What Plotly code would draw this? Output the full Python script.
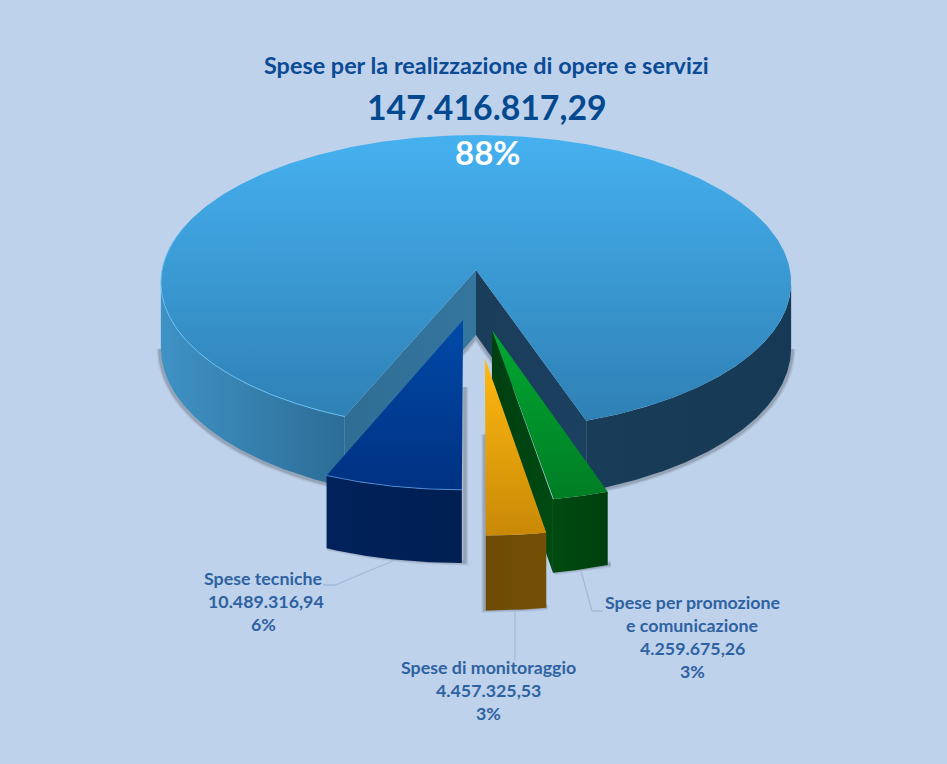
import numpy as np
import plotly.graph_objects as go

# ---------- data ----------
categories = ["Spese per la realizzazione di opere e servizi", "Spese tecniche",
              "Spese di monitoraggio", "Spese per promozione e comunicazione"]
values = [147416817.29, 10489316.94, 4457325.53, 4259675.26]
value_labels = ["147.416.817,29", "10.489.316,94", "4.457.325,53", "4.259.675,26"]
percent_labels = [f"{round(v / sum(values) * 100)}%" for v in values]

# ---------- view model (a perspective view of the pie's ground plane) ----------
W, H = 947, 764
CX, CY, BX, AY, K, DEPTH = 476, 270, 314, 146.4, 0.0847, 65
BG = "#bed2ec"
EDGE = float(np.degrees(np.arccos(K)))  # angle of the silhouette's widest point

def proj(u, v, z=0.0):
    w = 1 - K * np.asarray(v, dtype=float)
    return CX + BX * np.asarray(u) / w, CY + AY * np.asarray(v) / w + z * DEPTH / w

span = [v / sum(values) * 360 for v in values]
blue_a = (-span[1], 0.0)
yellow_a = (0.0, span[2])
green_a = (span[2], span[2] + span[3])
main_a = (green_a[1], 360 - span[1])

def arc(a0, a1, ox=0, oy=0, n=160):
    t = np.radians(np.linspace(a0, a1, n))
    return ox + np.sin(t), oy + np.cos(t)

fig = go.Figure()

def poly(xs, ys, color=None, grad=None):
    kw = dict(x=list(xs), y=list(ys), mode="lines", fill="toself", line=dict(width=0),
              hoverinfo="skip", showlegend=False)
    if grad:
        kind, c0, c1 = grad
        vals = xs if kind == "horizontal" else ys
        kw["fillgradient"] = dict(type=kind, start=float(np.min(vals)), stop=float(np.max(vals)),
                                  colorscale=[[0, c0], [1, c1]])
    else:
        kw["fillcolor"] = color
    fig.add_trace(go.Scatter(**kw))

def line(xs, ys, color, width):
    fig.add_trace(go.Scatter(x=list(xs), y=list(ys), mode="lines",
                             line=dict(color=color, width=width, shape="linear"),
                             hoverinfo="skip", showlegend=False))

def shadow(xs, ys, dx=1.5, dy=1.5):
    xs = np.asarray(xs) + dx
    ys = np.asarray(ys) + dy
    for wd, al in ((7, 0.08), (5, 0.12), (3, 0.18)):
        line(xs, ys, f"rgba(70,70,80,{al})", wd)

def wall_band(a0, a1, ox, oy, grad):
    u, v = arc(a0, a1, ox, oy)
    xt, yt = proj(u, v, 0)
    xb, yb = proj(u, v, 1)
    poly(np.r_[xt, xb[::-1]], np.r_[yt, yb[::-1]], grad=grad)

def cut_wall(a, ox, oy, grad):
    t = np.radians(a)
    u = np.array([ox, ox + np.sin(t)])
    v = np.array([oy, oy + np.cos(t)])
    xt, yt = proj(u, v, 0)
    xb, yb = proj(u, v, 1)
    poly(np.r_[xt, xb[::-1]], np.r_[yt, yb[::-1]], grad=grad)

def top(a0, a1, ox, oy, grad, stops=None):
    u, v = arc(a0, a1, ox, oy, n=400 if a1 - a0 > 90 else 80)
    x, y = proj(np.r_[ox, u], np.r_[oy, v])
    poly(x, y, grad=grad)

# --- main slice: shadow, walls, top ---
u, v = arc(-EDGE, main_a[1] - 360, 0, 0)
ux, vy = proj(u, v, 1)
shadow(ux, vy, -1, 1)
u, v = arc(main_a[0], EDGE, 0, 0)
ux, vy = proj(u, v, 1)
shadow(ux, vy, 1, 1)
ax, ay = proj(0, 0, 1)
t0, t1 = np.radians(main_a[1]), np.radians(main_a[0])
lx, ly = proj(np.sin(t0), np.cos(t0), 1)
rx, ry = proj(np.sin(t1), np.cos(t1), 1)
shadow([lx, ax, rx], [ly, ay, ry], 0, 2)

wall_band(main_a[0], EDGE, 0, 0, ("horizontal", "#193c58", "#163a55"))
wall_band(main_a[1], 360 - EDGE, 0, 0, ("horizontal", "#3f92c5", "#2c6d96"))
cut_wall(main_a[0], 0, 0, ("horizontal", "#1a3d5a", "#1b4060"))
cut_wall(main_a[1], 0, 0, ("horizontal", "#2f6d94", "#35769f"))
top(main_a[0], main_a[1], 0, 0, ("vertical", "#46b1f0", "#2e80b4"))
u, v = arc(main_a[1] - 85, main_a[1], 0, 0)
x, y = proj(u, v)
line(x, y, "rgba(110,195,245,0.9)", 1)

# --- exploded slices ---
OFF_BLUE = (-0.040, 0.332)
OFF_YELLOW = (0.027, 0.572)
OFF_GREEN = (0.049, 0.396)

def slice_shadow(a0, a1, off, side, z0):
    t = np.radians(a1 if side > 0 else a0)
    u0, v0 = off[0] + np.sin(t), off[1] + np.cos(t)
    x0, y0 = proj(u0, v0, 1)
    ua, va = arc(a0, a1, *off, n=40)
    xa, ya = proj(ua, va, 1)
    if side > 0:
        xs = np.r_[xa, x0 + 2, x0 + 2]
        ys = np.r_[ya, y0, y0 - z0]
    else:
        xs = np.r_[x0 - 2, x0 - 2, xa]
        ys = np.r_[y0 - z0, y0, ya]
    shadow(xs, ys, 1, -1)

# green
slice_shadow(*green_a, OFF_GREEN, 1, 0)
cut_wall(green_a[0], *OFF_GREEN, ("horizontal", "#003f10", "#004a12"))
wall_band(*green_a, *OFF_GREEN, ("horizontal", "#004a10", "#003f0d"))
top(*green_a, *OFF_GREEN, ("vertical", "#00a832", "#007d24"))

# yellow
slice_shadow(*yellow_a, OFF_YELLOW, -1, 175)
wall_band(*yellow_a, *OFF_YELLOW, ("horizontal", "#6e4b05", "#745006"))
top(*yellow_a, *OFF_YELLOW, ("vertical", "#ffba12", "#c98906"))

# blue
slice_shadow(*blue_a, OFF_BLUE, 1, 175)
wall_band(*blue_a, *OFF_BLUE, ("horizontal", "#00215a", "#001f52"))
top(*blue_a, *OFF_BLUE, ("vertical", "#004aa8", "#003182"))
u, v = arc(*blue_a, *OFF_BLUE, n=40)
x, y = proj(u, v)
line(x, y, "rgba(90,150,225,0.8)", 1)

# --- leader lines ---
LEADER = "#a3bad8"
line([323, 335, 395], [585, 585, 560], LEADER, 1.3)
line([515, 515], [611, 660], LEADER, 1.3)
line([581, 592, 603], [571, 611, 611], LEADER, 1.3)

# --- text ---
def txt(x, y, s, size, color, weight=700):
    fig.add_annotation(x=x, y=y, xref="x", yref="y", text=s, showarrow=False, xanchor="center",
                       yanchor="middle", font=dict(family="Lato", size=size, color=color, weight=weight))

txt(486, 65, categories[0], 23.4, "#0b4a94")
txt(487, 107, value_labels[0], 33.8, "#04498f")
txt(487, 152, percent_labels[0], 33, "#ffffff")

LAB = "#2f62a0"
LS = 17.8
txt(263, 578, categories[1], LS, LAB)
txt(266, 601, value_labels[1], LS, LAB)
txt(263, 624, percent_labels[1], LS, LAB)

txt(488, 667, categories[2], LS, LAB)
txt(488, 690, value_labels[2], LS, LAB)
txt(488, 713, percent_labels[2], LS, LAB)

txt(692, 602, "Spese per promozione", LS, LAB)
txt(692, 625, "e comunicazione", LS, LAB)
txt(692, 648, value_labels[3], LS, LAB)
txt(692, 671, percent_labels[3], LS, LAB)

fig.update_layout(width=W, height=H, margin=dict(l=0, r=0, t=0, b=0), paper_bgcolor=BG, plot_bgcolor=BG,
                  xaxis=dict(range=[0, W], visible=False, fixedrange=True),
                  yaxis=dict(range=[H, 0], visible=False, fixedrange=True), showlegend=False)
fig.write_html("out.html", config={"displayModeBar": False},
               post_script="document.body.style.margin='0';document.documentElement.style.background='" + BG + "';")
